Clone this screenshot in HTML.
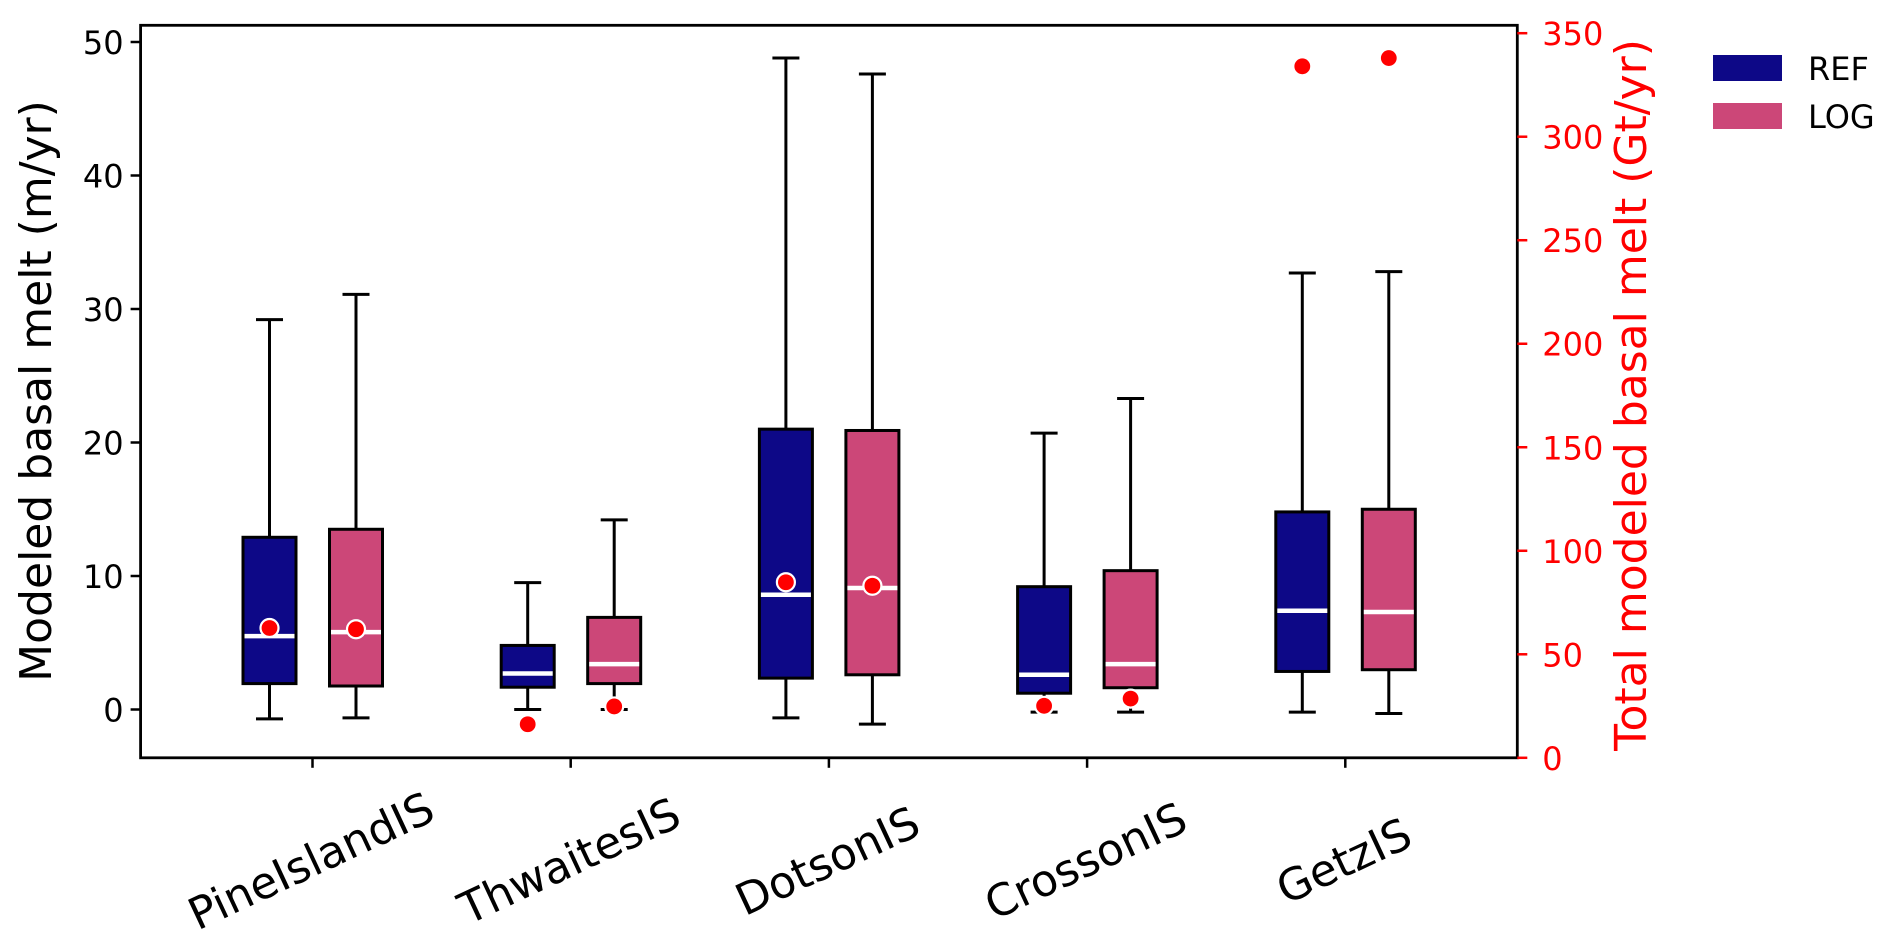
<!DOCTYPE html>
<html><head><meta charset="utf-8"><style>
html,body{margin:0;padding:0;background:#fff;}
svg{display:block;font-family:"DejaVu Sans","Liberation Sans",sans-serif;}
</style></head><body>
<svg id="chart" width="1892" height="948" viewBox="0 0 1892 948">
<g id="plot"></g>
</svg>
<script>
const categories = ["PineIslandIS","ThwaitesIS","DotsonIS","CrossonIS","GetzIS"];
const series = ["REF","LOG"];
// [whiskerLow, q1, median, q3, whiskerHigh] in m/yr
const refStats = [[-0.7,1.94,5.5,12.9,29.2],[0,1.67,2.7,4.8,9.5],[-0.63,2.35,8.6,21.0,48.8],[-0.2,1.22,2.6,9.2,20.7],[-0.2,2.85,7.4,14.8,32.7]];
const logStats = [[-0.63,1.76,5.8,13.5,31.1],[0,1.94,3.4,6.9,14.2],[-1.1,2.6,9.1,20.9,47.6],[-0.2,1.63,3.4,10.4,23.3],[-0.3,2.98,7.3,15.0,32.8]];
// total melt Gt/yr (right axis)
const refTotal = [62.7,16.2,84.8,25.1,334];
const logTotal = [62.1,24.8,83.1,28.6,338];
const leftTicks = [0,10,20,30,40,50];
const rightTicks = [0,50,100,150,200,250,300,350];

const NS="http://www.w3.org/2000/svg";
const g=document.getElementById('plot');
const L=140.6,R=1517.3,T=25.3,B=757.8;
const yL=v=>709.5-13.35*v;
const yR=v=>B-(B-33.2)*v/350;
const xC=i=>312.5+258.2*i;
const colors=["#0d0887","#cc4778"];
function el(tag,attrs,parent){const e=document.createElementNS(NS,tag);for(const k in attrs)e.setAttribute(k,attrs[k]);(parent||g).appendChild(e);return e;}

[refStats,logStats].forEach((stats,s)=>{
  stats.forEach((d,i)=>{
    const cx=xC(i)+(s===0?-43:43.5),hw=26.5;
    const grp=el('g',{});
    
    
    el('line',{x1:cx,x2:cx,y1:yL(d[3]),y2:yL(d[4]),stroke:'#000','stroke-width':3},grp);
    el('line',{x1:cx,x2:cx,y1:yL(d[0]),y2:yL(d[1]),stroke:'#000','stroke-width':3},grp);
    el('line',{x1:cx-13.5,x2:cx+13.5,y1:yL(d[4]),y2:yL(d[4]),stroke:'#000','stroke-width':3},grp);
    el('line',{x1:cx-13.5,x2:cx+13.5,y1:yL(d[0]),y2:yL(d[0]),stroke:'#000','stroke-width':3},grp);
    el('rect',{x:cx-hw,y:yL(d[3]),width:2*hw,height:yL(d[1])-yL(d[3]),fill:colors[s],stroke:'#000','stroke-width':3},grp);
    el('line',{x1:cx-hw+1.5,x2:cx+hw-1.5,y1:yL(d[2]),y2:yL(d[2]),stroke:'#fff','stroke-width':4.5},grp);
  });
});
[refTotal,logTotal].forEach((arr,s)=>{
  arr.forEach((v,i)=>{
    const cx=xC(i)+(s===0?-43:43.5);
    const c=el('circle',{cx:cx,cy:yR(v),r:9,fill:'#ff0000',stroke:'#fff','stroke-width':2.2});
    
    
  });
});
const fr=el('rect',{x:L,y:T,width:R-L,height:B-T,fill:'none',stroke:'#000','stroke-width':2.8});


leftTicks.forEach(v=>{
  const y=yL(v);
  el('line',{x1:L-10,x2:L,y1:y,y2:y,stroke:'#000','stroke-width':2.5});
  const t=el('text',{x:L-17,y:y+12,'text-anchor':'end','font-size':32,fill:'#000'});
  t.textContent=v;
  
  
});
rightTicks.forEach(v=>{
  const y=yR(v);
  el('line',{x1:R,x2:R+10,y1:y,y2:y,stroke:'#ff0000','stroke-width':2.5});
  const t=el('text',{x:R+25,y:y+12,'text-anchor':'start','font-size':32,fill:'#ff0000'});
  t.textContent=v;
  
  
});
categories.forEach((c,i)=>{
  const x=xC(i);
  el('line',{x1:x,x2:x,y1:B,y2:B+10,stroke:'#000','stroke-width':2.5});
  const t=el('text',{x:x,y:864,'text-anchor':'middle','dominant-baseline':'middle','font-size':44,fill:'#000',transform:'rotate(-25 '+x+' 864)'});
  t.textContent=c;
  
  
});
const yt=el('text',{x:39,y:391,'text-anchor':'middle','dominant-baseline':'middle','font-size':44,fill:'#000',transform:'rotate(-90 39 391)'});
yt.textContent='Modeled basal melt (m/yr)';


const yt2=el('text',{x:1634,y:395,'text-anchor':'middle','dominant-baseline':'middle','font-size':44,fill:'#ff0000',transform:'rotate(-90 1634 395)'});
yt2.textContent='Total modeled basal melt (Gt/yr)';


series.forEach((s,k)=>{
  const lg=el('g',{});
  
  
  el('rect',{x:1713,y:55+48*k,width:69,height:26,fill:colors[k]},lg);
  const t=el('text',{x:1808,y:80+48*k,'font-size':32,fill:'#000'},lg);
  t.textContent=s;
});
</script>
</body></html>
